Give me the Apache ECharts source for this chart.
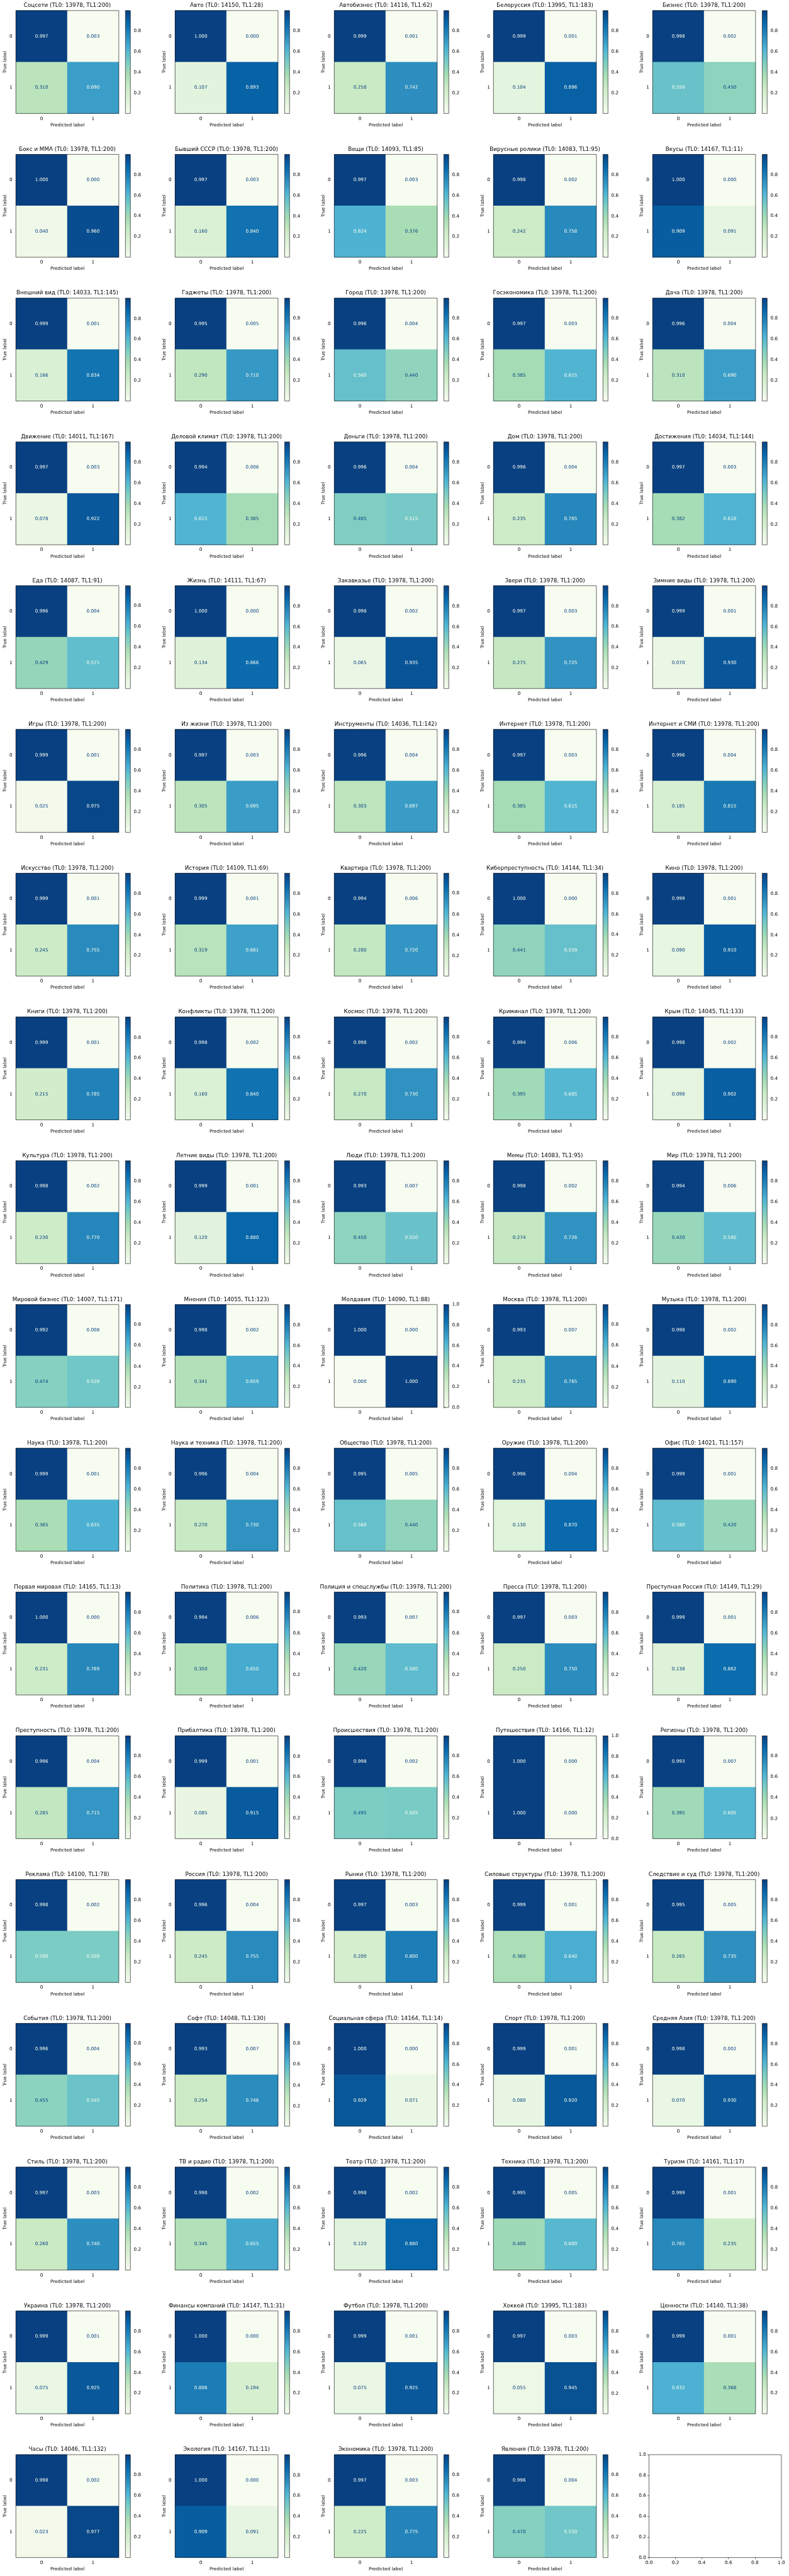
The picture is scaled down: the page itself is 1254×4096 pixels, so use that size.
<!DOCTYPE html>
<html><head><meta charset="utf-8">
<script src="https://cdn.jsdelivr.net/npm/echarts@6/dist/echarts.min.js"></script>
<style>html,body{margin:0;padding:0;background:#fff}#c{width:1254px;height:4096px}</style>
</head><body><div id="c"></div>
<script>
const categories = [
 'Соцсети','Авто','Автобизнес','Белоруссия','Бизнес',
 'Бокс и ММА','Бывший СССР','Вещи','Вирусные ролики','Вкусы',
 'Внешний вид','Гаджеты','Город','Госэкономика','Дача',
 'Движение','Деловой климат','Деньги','Дом','Достижения',
 'Еда','Жизнь','Закавказье','Звери','Зимние виды',
 'Игры','Из жизни','Инструменты','Интернет','Интернет и СМИ',
 'Искусство','История','Квартира','Киберпреступность','Кино',
 'Книги','Конфликты','Космос','Криминал','Крым',
 'Культура','Летние виды','Люди','Мемы','Мир',
 'Мировой бизнес','Мнения','Молдавия','Москва','Музыка',
 'Наука','Наука и техника','Общество','Оружие','Офис',
 'Первая мировая','Политика','Полиция и спецслужбы','Пресса','Преступная Россия',
 'Преступность','Прибалтика','Происшествия','Путешествия','Регионы',
 'Реклама','Россия','Рынки','Силовые структуры','Следствие и суд',
 'События','Софт','Социальная сфера','Спорт','Средняя Азия',
 'Стиль','ТВ и радио','Театр','Техника','Туризм',
 'Украина','Финансы компаний','Футбол','Хоккей','Ценности',
 'Часы','Экология','Экономика','Явления'
];
const tl0 = [
 13978,14150,14116,13995,13978, 13978,13978,14093,14083,14167, 14033,13978,13978,13978,13978,
 14011,13978,13978,13978,14034, 14087,14111,13978,13978,13978, 13978,13978,14036,13978,13978,
 13978,14109,13978,14144,13978, 13978,13978,13978,13978,14045, 13978,13978,13978,14083,13978,
 14007,14055,14090,13978,13978, 13978,13978,13978,13978,14021, 14165,13978,13978,13978,14149,
 13978,13978,13978,14166,13978, 14100,13978,13978,13978,13978, 13978,14048,14164,13978,13978,
 13978,13978,13978,13978,14161, 13978,14147,13978,13995,14140, 14046,14167,13978,13978
];
const tl1 = [
 200,28,62,183,200, 200,200,85,95,11, 145,200,200,200,200, 167,200,200,200,144,
 91,67,200,200,200, 200,200,142,200,200, 200,69,200,34,200, 200,200,200,200,133,
 200,200,200,95,200, 171,123,88,200,200, 200,200,200,200,157, 13,200,200,200,29,
 200,200,200,12,200, 78,200,200,200,200, 200,130,14,200,200, 200,200,200,200,17,
 200,31,200,183,38, 132,11,200,200
];
// row "true 0": predicted 0 / predicted 1
const tn = [
 0.997,1.000,0.999,0.999,0.998, 1.000,0.997,0.997,0.998,1.000, 0.999,0.995,0.996,0.997,0.996,
 0.997,0.994,0.996,0.996,0.997, 0.996,1.000,0.998,0.997,0.999, 0.999,0.997,0.996,0.997,0.996,
 0.999,0.999,0.994,1.000,0.999, 0.999,0.998,0.998,0.994,0.998, 0.998,0.999,0.993,0.998,0.994,
 0.992,0.998,1.000,0.993,0.998, 0.999,0.996,0.995,0.996,0.999, 1.000,0.994,0.993,0.997,0.999,
 0.996,0.999,0.998,1.000,0.993, 0.998,0.996,0.997,0.999,0.995, 0.996,0.993,1.000,0.999,0.998,
 0.997,0.998,0.998,0.995,0.999, 0.999,1.000,0.999,0.997,0.999, 0.998,1.000,0.997,0.996
];
const fp = [
 0.003,0.000,0.001,0.001,0.002, 0.000,0.003,0.003,0.002,0.000, 0.001,0.005,0.004,0.003,0.004,
 0.003,0.006,0.004,0.004,0.003, 0.004,0.000,0.002,0.003,0.001, 0.001,0.003,0.004,0.003,0.004,
 0.001,0.001,0.006,0.000,0.001, 0.001,0.002,0.002,0.006,0.002, 0.002,0.001,0.007,0.002,0.006,
 0.008,0.002,0.000,0.007,0.002, 0.001,0.004,0.005,0.004,0.001, 0.000,0.006,0.007,0.003,0.001,
 0.004,0.001,0.002,0.000,0.007, 0.002,0.004,0.003,0.001,0.005, 0.004,0.007,0.000,0.001,0.002,
 0.003,0.002,0.002,0.005,0.001, 0.001,0.000,0.001,0.003,0.001, 0.002,0.000,0.003,0.004
];
// row "true 1": predicted 0 / predicted 1
const fn = [
 0.310,0.107,0.258,0.104,0.550, 0.040,0.160,0.624,0.242,0.909, 0.166,0.290,0.560,0.385,0.310,
 0.078,0.615,0.485,0.235,0.382, 0.429,0.134,0.065,0.275,0.070, 0.025,0.305,0.303,0.385,0.185,
 0.245,0.319,0.280,0.441,0.090, 0.215,0.160,0.270,0.395,0.098, 0.230,0.120,0.450,0.274,0.420,
 0.474,0.341,0.000,0.235,0.110, 0.365,0.270,0.560,0.130,0.580, 0.231,0.350,0.420,0.250,0.138,
 0.285,0.085,0.495,1.000,0.395, 0.500,0.245,0.200,0.360,0.265, 0.455,0.254,0.929,0.080,0.070,
 0.260,0.345,0.120,0.400,0.765, 0.075,0.806,0.075,0.055,0.632, 0.023,0.909,0.225,0.470
];
const tp = [
 0.690,0.893,0.742,0.896,0.450, 0.960,0.840,0.376,0.758,0.091, 0.834,0.710,0.440,0.615,0.690,
 0.922,0.385,0.515,0.765,0.618, 0.571,0.866,0.935,0.725,0.930, 0.975,0.695,0.697,0.615,0.815,
 0.755,0.681,0.720,0.559,0.910, 0.785,0.840,0.730,0.605,0.902, 0.770,0.880,0.550,0.726,0.580,
 0.526,0.659,1.000,0.765,0.890, 0.635,0.730,0.440,0.870,0.420, 0.769,0.650,0.580,0.750,0.862,
 0.715,0.915,0.505,0.000,0.605, 0.500,0.755,0.800,0.640,0.735, 0.545,0.746,0.071,0.920,0.930,
 0.740,0.655,0.880,0.600,0.235, 0.925,0.194,0.925,0.945,0.368, 0.977,0.091,0.775,0.530
];
const classLabels = ['0','1'];
const colorbarTicks = [0.0, 0.2, 0.4, 0.6, 0.8, 1.0];

// ---- layout (reference pixels, scaled) ----
const S = 1254 / 2384;
const COLS = 5, COLP = 481, ROWP = 434.6;
const HX = 48, HY = 32, HS = 311, CBX = 379, CBW = 15, TY = 17, TX = 203.5;
const GnBu = ['#f7fcf0','#e0f3db','#ccebc5','#a8ddb5','#7bccc4','#4eb3d3','#2b8cbe','#0868ac','#084081'];
const DARK = GnBu[8], LIGHT = GnBu[0];
const FONT = 'DejaVu Sans';
const fs = 13.89 * S, tfs = 16.67 * S;
const TICKLEN = 4.9 * S, LW = 0.6;
const txt = {fontFamily: FONT, fontSize: fs, color: '#000'};

const option = {animation: false, backgroundColor: '#fff', title: [], grid: [], xAxis: [], yAxis: [], series: [], visualMap: []};

categories.forEach((name, i) => {
  const r = Math.floor(i / COLS), c = i % COLS;
  const ox = c * COLP, oy = r * ROWP;
  const vals = [tn[i], fp[i], fn[i], tp[i]];
  const vmin = Math.min(...vals), vmax = Math.max(...vals);
  const exact = vals.every(v => v === 0 || v === 1);
  const thr = (vmin + vmax) / 2;
  const ticks = colorbarTicks.filter(v => exact ? (v >= vmin - 1e-9 && v <= vmax + 1e-9) : (v > vmin + 1e-9 && v < vmax - 1e-9));

  option.title.push({
    text: name + ' (TL0: ' + tl0[i] + ', TL1:' + tl1[i] + ')',
    left: (ox + TX) * S, top: (oy + TY) * S, textAlign: 'center', textVerticalAlign: 'middle', padding: 0,
    textStyle: {fontFamily: FONT, fontSize: tfs, fontWeight: 'normal', color: '#000'}
  });

  // heatmap grid
  const g = option.grid.length;
  option.grid.push({left: (ox + HX) * S, top: (oy + HY) * S, width: HS * S, height: HS * S,
    show: true, z: 5, backgroundColor: 'transparent', borderColor: '#000', borderWidth: LW});
  option.xAxis.push({gridIndex: g, type: 'category', data: classLabels, position: 'bottom',
    name: 'Predicted label', nameLocation: 'middle', nameGap: 15, nameTextStyle: txt,
    axisLine: {show: false}, axisTick: {alignWithLabel: true, length: TICKLEN, lineStyle: {color: '#000', width: LW}},
    axisLabel: Object.assign({margin: 4.7}, txt), splitLine: {show: false}});
  option.yAxis.push({gridIndex: g, type: 'category', data: classLabels, inverse: true, position: 'left',
    name: 'True label', nameLocation: 'middle', nameGap: 13.5, nameRotate: 90, nameTextStyle: txt,
    axisLine: {show: false}, axisTick: {alignWithLabel: true, length: TICKLEN, lineStyle: {color: '#000', width: LW}},
    axisLabel: Object.assign({margin: 5.5}, txt), splitLine: {show: false}});
  const data = [[0, 0, tn[i]], [1, 0, fp[i]], [0, 1, fn[i]], [1, 1, tp[i]]].map(d => ({
    value: d, label: {color: d[2] < thr ? DARK : LIGHT}
  }));
  const si = option.series.length;
  option.series.push({type: 'heatmap', xAxisIndex: g, yAxisIndex: g, data: data,
    label: {show: true, fontFamily: FONT, fontSize: fs, formatter: p => p.value[2].toFixed(3)},
    itemStyle: {borderWidth: 0}, emphasis: {disabled: true}, progressive: 0});
  option.visualMap.push({type: 'continuous', show: false, seriesIndex: si, dimension: 2,
    min: vmin, max: vmax, inRange: {color: GnBu}});

  // colorbar grid
  const gc = option.grid.length;
  option.grid.push({left: (ox + CBX) * S, top: (oy + HY) * S, width: CBW * S, height: HS * S,
    show: true, z: 5, backgroundColor: 'transparent', borderColor: '#000', borderWidth: LW});
  option.xAxis.push({gridIndex: gc, type: 'value', min: 0, max: 1, show: false});
  option.yAxis.push({gridIndex: gc, type: 'value', min: vmin, max: vmax, position: 'right',
    axisLine: {show: false},
    axisTick: {show: true, length: TICKLEN, customValues: ticks, lineStyle: {color: '#000', width: LW}},
    axisLabel: Object.assign({margin: 5.3, customValues: ticks, formatter: v => v.toFixed(1)}, txt),
    splitLine: {show: false}});
  option.series.push({type: 'custom', xAxisIndex: gc, yAxisIndex: gc, data: [[0, vmin, vmax]],
    encode: {x: 0, y: 1}, silent: true,
    renderItem: (params, api) => {
      const p1 = api.coord([0, api.value(2)]);
      const p0 = api.coord([1, api.value(1)]);
      return {type: 'rect', shape: {x: p1[0], y: p1[1], width: p0[0] - p1[0], height: p0[1] - p1[1]},
        style: {fill: new echarts.graphic.LinearGradient(0, 1, 0, 0, GnBu.map((col, k) => ({offset: k / 8, color: col})))}};
    }});
});

// the unused last axes
{
  const i = categories.length;
  const r = Math.floor(i / COLS);
  const oy = r * ROWP;
  const ge = option.grid.length;
  option.grid.push({left: 1961 * S, top: (oy + HY) * S, width: 400 * S, height: HS * S,
    show: true, z: 5, backgroundColor: 'transparent', borderColor: '#000', borderWidth: LW});
  const ax = {type: 'value', min: 0, max: 1, interval: 0.2, gridIndex: ge,
    axisLine: {show: false}, axisTick: {show: true, length: TICKLEN, lineStyle: {color: '#000', width: LW}},
    axisLabel: Object.assign({margin: 4.7, formatter: v => v.toFixed(1)}, txt), splitLine: {show: false}};
  option.xAxis.push(Object.assign({position: 'bottom'}, ax));
  option.yAxis.push(Object.assign({position: 'left'}, ax));
}

const chart = echarts.init(document.getElementById('c'), null, {renderer: 'canvas'});
chart.setOption(option);
</script></body></html>
